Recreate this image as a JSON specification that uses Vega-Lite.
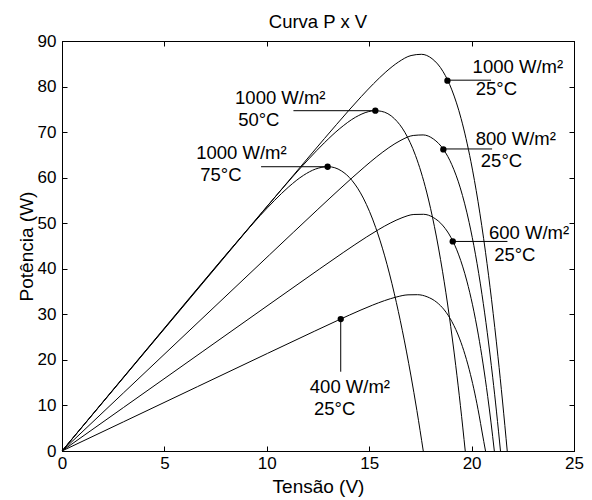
{
  "$schema": "https://vega.github.io/schema/vega-lite/v6.json",
  "width": 512,
  "height": 410,
  "autosize": {"type": "none"},
  "padding": {"left": 62, "top": 41, "right": 18, "bottom": 49},
  "background": "white",
  "title": {"text": "Curva P x V", "font": "Liberation Sans", "fontSize": 18.5, "fontWeight": "normal", "color": "black", "offset": 1, "anchor": "middle", "frame": "group"},
  "config": {
    "view": {"stroke": "black", "strokeWidth": 1},
    "axis": {"domainColor": "black", "domainWidth": 1, "tickColor": "black", "tickWidth": 1, "tickSize": -5, "labelColor": "black", "titleColor": "black", "labelFont": "Liberation Sans", "titleFont": "Liberation Sans", "labelFontSize": 17, "titleFontSize": 19, "titleFontWeight": "normal", "grid": false, "labelFlush": false}
  },
  "datasets": {
    "curves": [
      {"c": "1000-25", "V": 0, "P": 0}, {"c": "1000-25", "V": 2, "P": 10.72}, {"c": "1000-25", "V": 4, "P": 21.44}, {"c": "1000-25", "V": 6.257, "P": 33.54}, {"c": "1000-25", "V": 9.833, "P": 52.7}, {"c": "1000-25", "V": 12.218, "P": 65.43}, {"c": "1000-25", "V": 13.412, "P": 71.71}, {"c": "1000-25", "V": 14.609, "P": 77.78}, {"c": "1000-25", "V": 15.21, "P": 80.62}, {"c": "1000-25", "V": 15.814, "P": 83.21}, {"c": "1000-25", "V": 16.424, "P": 85.37}, {"c": "1000-25", "V": 17.044, "P": 86.81}, {"c": "1000-25", "V": 17.549, "P": 87.08}, {"c": "1000-25", "V": 18.069, "P": 86.12}, {"c": "1000-25", "V": 18.61, "P": 83.26}, {"c": "1000-25", "V": 19.036, "P": 79.27}, {"c": "1000-25", "V": 19.486, "P": 72.99}, {"c": "1000-25", "V": 19.967, "P": 63.51}, {"c": "1000-25", "V": 20.312, "P": 54.81}, {"c": "1000-25", "V": 20.68, "P": 43.62}, {"c": "1000-25", "V": 20.975, "P": 33.2}, {"c": "1000-25", "V": 21.288, "P": 20.69}, {"c": "1000-25", "V": 21.509, "P": 10.97}, {"c": "1000-25", "V": 21.74, "P": 0},
      {"c": "1000-50", "V": 0, "P": 0}, {"c": "1000-50", "V": 2.5, "P": 13.45}, {"c": "1000-50", "V": 5.295, "P": 28.48}, {"c": "1000-50", "V": 8.294, "P": 44.58}, {"c": "1000-50", "V": 9.794, "P": 52.56}, {"c": "1000-50", "V": 11.297, "P": 60.37}, {"c": "1000-50", "V": 12.05, "P": 64.11}, {"c": "1000-50", "V": 12.807, "P": 67.64}, {"c": "1000-50", "V": 13.566, "P": 70.78}, {"c": "1000-50", "V": 14.334, "P": 73.27}, {"c": "1000-50", "V": 14.956, "P": 74.48}, {"c": "1000-50", "V": 15.27, "P": 74.7}, {"c": "1000-50", "V": 15.588, "P": 74.57}, {"c": "1000-50", "V": 16.238, "P": 72.92}, {"c": "1000-50", "V": 16.739, "P": 69.97}, {"c": "1000-50", "V": 17.259, "P": 64.89}, {"c": "1000-50", "V": 17.805, "P": 56.84}, {"c": "1000-50", "V": 18.186, "P": 49.25}, {"c": "1000-50", "V": 18.584, "P": 39.34}, {"c": "1000-50", "V": 18.898, "P": 30.02}, {"c": "1000-50", "V": 19.226, "P": 18.75}, {"c": "1000-50", "V": 19.454, "P": 9.96}, {"c": "1000-50", "V": 19.69, "P": 0},
      {"c": "1000-75", "V": 0, "P": 0}, {"c": "1000-75", "V": 2, "P": 10.8}, {"c": "1000-75", "V": 3.53, "P": 19.06}, {"c": "1000-75", "V": 6.255, "P": 33.75}, {"c": "1000-75", "V": 7.62, "P": 41.05}, {"c": "1000-75", "V": 8.99, "P": 48.22}, {"c": "1000-75", "V": 9.679, "P": 51.69}, {"c": "1000-75", "V": 10.374, "P": 54.99}, {"c": "1000-75", "V": 11.077, "P": 58.01}, {"c": "1000-75", "V": 11.794, "P": 60.52}, {"c": "1000-75", "V": 12.384, "P": 61.9}, {"c": "1000-75", "V": 12.997, "P": 62.41}, {"c": "1000-75", "V": 13.642, "P": 61.49}, {"c": "1000-75", "V": 14.158, "P": 59.4}, {"c": "1000-75", "V": 14.712, "P": 55.52}, {"c": "1000-75", "V": 15.315, "P": 49.08}, {"c": "1000-75", "V": 15.755, "P": 42.83}, {"c": "1000-75", "V": 16.23, "P": 34.49}, {"c": "1000-75", "V": 16.616, "P": 26.5}, {"c": "1000-75", "V": 17.032, "P": 16.67}, {"c": "1000-75", "V": 17.328, "P": 8.9}, {"c": "1000-75", "V": 17.64, "P": 0},
      {"c": "800-25", "V": 0, "P": 0}, {"c": "800-25", "V": 3, "P": 12.75}, {"c": "800-25", "V": 6.642, "P": 28.23}, {"c": "800-25", "V": 10.131, "P": 43.05}, {"c": "800-25", "V": 12.458, "P": 52.9}, {"c": "800-25", "V": 13.622, "P": 57.75}, {"c": "800-25", "V": 14.789, "P": 62.43}, {"c": "800-25", "V": 15.373, "P": 64.61}, {"c": "800-25", "V": 15.961, "P": 66.59}, {"c": "800-25", "V": 16.552, "P": 68.22}, {"c": "800-25", "V": 17.15, "P": 69.26}, {"c": "800-25", "V": 17.635, "P": 69.38}, {"c": "800-25", "V": 18.129, "P": 68.51}, {"c": "800-25", "V": 18.639, "P": 66.12}, {"c": "800-25", "V": 19.034, "P": 62.85}, {"c": "800-25", "V": 19.447, "P": 57.76}, {"c": "800-25", "V": 19.881, "P": 50.14}, {"c": "800-25", "V": 20.187, "P": 43.19}, {"c": "800-25", "V": 20.509, "P": 34.3}, {"c": "800-25", "V": 20.763, "P": 26.06}, {"c": "800-25", "V": 21.03, "P": 16.2}, {"c": "800-25", "V": 21.217, "P": 8.58}, {"c": "800-25", "V": 21.41, "P": 0},
      {"c": "600-25", "V": 0, "P": 0}, {"c": "600-25", "V": 3, "P": 9.54}, {"c": "600-25", "V": 6.878, "P": 21.87}, {"c": "600-25", "V": 10.304, "P": 32.76}, {"c": "600-25", "V": 12.589, "P": 40.0}, {"c": "600-25", "V": 13.731, "P": 43.56}, {"c": "600-25", "V": 14.876, "P": 46.99}, {"c": "600-25", "V": 15.449, "P": 48.58}, {"c": "600-25", "V": 16.024, "P": 50.02}, {"c": "600-25", "V": 16.601, "P": 51.2}, {"c": "600-25", "V": 17.182, "P": 51.92}, {"c": "600-25", "V": 17.652, "P": 51.96}, {"c": "600-25", "V": 18.129, "P": 51.26}, {"c": "600-25", "V": 18.613, "P": 49.4}, {"c": "600-25", "V": 18.987, "P": 46.91}, {"c": "600-25", "V": 19.371, "P": 43.05}, {"c": "600-25", "V": 19.769, "P": 37.3}, {"c": "600-25", "V": 20.045, "P": 32.09}, {"c": "600-25", "V": 20.331, "P": 25.44}, {"c": "600-25", "V": 20.554, "P": 19.3}, {"c": "600-25", "V": 20.786, "P": 11.98}, {"c": "600-25", "V": 20.946, "P": 6.34}, {"c": "600-25", "V": 21.11, "P": 0},
      {"c": "400-25", "V": 0, "P": 0}, {"c": "400-25", "V": 3, "P": 6.4}, {"c": "400-25", "V": 6.617, "P": 14.13}, {"c": "400-25", "V": 10.037, "P": 21.43}, {"c": "400-25", "V": 12.317, "P": 26.27}, {"c": "400-25", "V": 13.458, "P": 28.66}, {"c": "400-25", "V": 14.599, "P": 30.96}, {"c": "400-25", "V": 15.171, "P": 32.03}, {"c": "400-25", "V": 15.744, "P": 33.0}, {"c": "400-25", "V": 16.318, "P": 33.79}, {"c": "400-25", "V": 16.895, "P": 34.28}, {"c": "400-25", "V": 17.36, "P": 34.31}, {"c": "400-25", "V": 17.829, "P": 33.85}, {"c": "400-25", "V": 18.305, "P": 32.62}, {"c": "400-25", "V": 18.668, "P": 30.96}, {"c": "400-25", "V": 19.038, "P": 28.4}, {"c": "400-25", "V": 19.419, "P": 24.6}, {"c": "400-25", "V": 19.679, "P": 21.15}, {"c": "400-25", "V": 19.947, "P": 16.76}, {"c": "400-25", "V": 20.154, "P": 12.71}, {"c": "400-25", "V": 20.366, "P": 7.88}, {"c": "400-25", "V": 20.511, "P": 4.17}, {"c": "400-25", "V": 20.68, "P": 0}
    ],
    "markers": [
      {"V": 18.82, "P": 81.3}, {"V": 18.62, "P": 66.2}, {"V": 19.08, "P": 46.0}, {"V": 15.3, "P": 74.7}, {"V": 12.97, "P": 62.4}, {"V": 13.61, "P": 28.95}
    ],
    "leaders": [
      {"x1": 18.82, "x2": 20.95, "y1": 81.4, "y2": 81.4},
      {"x1": 18.62, "x2": 21.0, "y1": 66.3, "y2": 66.3},
      {"x1": 19.08, "x2": 21.75, "y1": 46.0, "y2": 46.0},
      {"x1": 11.3, "x2": 15.3, "y1": 74.7, "y2": 74.7},
      {"x1": 9.72, "x2": 12.97, "y1": 62.4, "y2": 62.4},
      {"x1": 13.61, "x2": 13.61, "y1": 28.95, "y2": 17.4}
    ],
    "labels": [
      {"t": "1000 W/m²", "V": 20.05, "P": 82.9},
      {"t": "25°C", "V": 20.2, "P": 78.2},
      {"t": "800 W/m²", "V": 20.2, "P": 67.1},
      {"t": "25°C", "V": 20.45, "P": 62.3},
      {"t": "600 W/m²", "V": 20.85, "P": 46.5},
      {"t": "25°C", "V": 21.1, "P": 41.6},
      {"t": "1000 W/m²", "V": 8.45, "P": 76.1},
      {"t": "50°C", "V": 8.6, "P": 71.4},
      {"t": "1000 W/m²", "V": 6.55, "P": 64.0},
      {"t": "75°C", "V": 6.75, "P": 59.3},
      {"t": "400 W/m²", "V": 12.1, "P": 12.7},
      {"t": "25°C", "V": 12.3, "P": 7.9}
    ]
  },
  "resolve": {"axis": {"x": "independent", "y": "independent"}},
  "layer": [
    {
      "data": {"name": "curves"},
      "mark": {"type": "line", "color": "black", "strokeWidth": 1, "interpolate": "monotone"},
      "encoding": {
        "x": {"field": "V", "type": "quantitative", "scale": {"domain": [0, 25], "nice": false, "zero": false},
              "axis": {"orient": "bottom", "values": [0, 5, 10, 15, 20, 25], "title": "Tensão (V)", "labelPadding": 9, "titlePadding": 6}},
        "y": {"field": "P", "type": "quantitative", "scale": {"domain": [0, 90], "nice": false, "zero": false},
              "axis": {"orient": "left", "values": [0, 10, 20, 30, 40, 50, 60, 70, 80, 90], "title": "Potência (W)", "labelPadding": 11, "titlePadding": 1}},
        "detail": {"field": "c", "type": "nominal"}
      }
    },
    {
      "data": {"name": "markers"},
      "mark": {"type": "circle", "size": 40, "color": "black", "opacity": 1},
      "encoding": {
        "x": {"field": "V", "type": "quantitative", "scale": {"domain": [0, 25], "nice": false, "zero": false},
              "axis": {"orient": "top", "values": [0, 5, 10, 15, 20, 25], "labels": false, "title": null}},
        "y": {"field": "P", "type": "quantitative", "scale": {"domain": [0, 90], "nice": false, "zero": false},
              "axis": {"orient": "right", "values": [0, 10, 20, 30, 40, 50, 60, 70, 80, 90], "labels": false, "title": null}}
      }
    },
    {
      "data": {"name": "leaders"},
      "mark": {"type": "rule", "color": "black", "strokeWidth": 1},
      "encoding": {
        "x": {"field": "x1", "type": "quantitative", "scale": {"domain": [0, 25], "nice": false, "zero": false}, "axis": null},
        "x2": {"field": "x2"},
        "y": {"field": "y1", "type": "quantitative", "scale": {"domain": [0, 90], "nice": false, "zero": false}, "axis": null},
        "y2": {"field": "y2"}
      }
    },
    {
      "data": {"name": "labels"},
      "mark": {"type": "text", "align": "left", "baseline": "alphabetic", "font": "Liberation Sans", "fontSize": 18.5, "color": "black"},
      "encoding": {
        "x": {"field": "V", "type": "quantitative", "scale": {"domain": [0, 25], "nice": false, "zero": false}, "axis": null},
        "y": {"field": "P", "type": "quantitative", "scale": {"domain": [0, 90], "nice": false, "zero": false}, "axis": null},
        "text": {"field": "t", "type": "nominal"}
      }
    }
  ]
}
